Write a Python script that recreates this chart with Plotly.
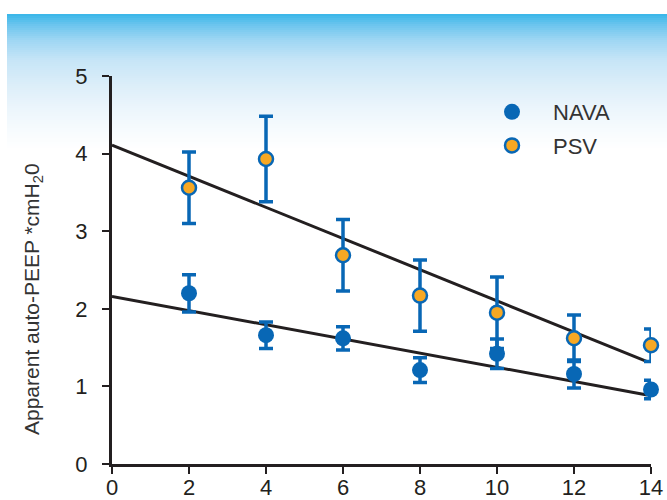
import plotly.graph_objects as go

# Breath-cycle time points
x_vals = [2, 4, 6, 8, 10, 12, 14]

# Apparent auto-PEEP, mean and error (cmH2O)
nava_mean = [2.20, 1.66, 1.62, 1.21, 1.42, 1.16, 0.96]
nava_err = [0.24, 0.17, 0.15, 0.16, 0.19, 0.18, 0.12]
psv_mean = [3.56, 3.93, 2.69, 2.17, 1.95, 1.62, 1.53]
psv_err = [0.46, 0.55, 0.46, 0.46, 0.46, 0.30, 0.21]

# Linear trend lines: intercept and slope
nava_fit = (2.16, -0.0914)
psv_fit = (4.11, -0.2007)
fit_x = [0, 13.9]

x_ticks = [0, 2, 4, 6, 8, 10, 12, 14]
y_ticks = [0, 1, 2, 3, 4, 5]

BLUE = "#0867b5"
ORANGE = "#f7a823"
INK = "#231f20"
FONT = "Liberation Sans, Arial, sans-serif"

W, H = 667, 500
L, R, T, B = 112, 16, 76, 36
PW, PH = W - L - R, H - T - B

fig = go.Figure()

for (b0, b1) in (psv_fit, nava_fit):
    fig.add_trace(go.Scatter(
        x=fit_x, y=[b0 + b1 * xx for xx in fit_x], mode="lines",
        line=dict(color=INK, width=3), showlegend=False, hoverinfo="skip",
        cliponaxis=False,
    ))

fig.add_trace(go.Scatter(
    x=x_vals, y=nava_mean, mode="markers", name="NAVA", legendgroup="a",
    marker=dict(size=16, color=BLUE, line=dict(width=0)),
    error_y=dict(type="data", array=nava_err, color=BLUE, thickness=3.5, width=7),
    cliponaxis=False,
))
fig.add_trace(go.Scatter(
    x=x_vals, y=psv_mean, mode="markers", name="PSV", legendgroup="b",
    marker=dict(size=14, color=ORANGE, line=dict(width=2.5, color=BLUE)),
    error_y=dict(type="data", array=psv_err, color=BLUE, thickness=3.5, width=7),
    cliponaxis=False,
))

# Sky-blue header band fading to white
stops = [(14, (56, 182, 232)), (25, (108, 197, 238)), (40, (158, 214, 243)),
         (60, (198, 229, 247)), (85, (220, 238, 249)), (110, (237, 246, 252)),
         (135, (249, 252, 254)), (150, (255, 255, 255))]


def col_at(py):
    for (p0, c0), (p1, c1) in zip(stops, stops[1:]):
        if p0 <= py <= p1:
            f = (py - p0) / (p1 - p0)
            return "rgb(%d,%d,%d)" % tuple(round(a + (b - a) * f) for a, b in zip(c0, c1))
    return "white"


def px_x(px):
    return (px - L) / PW


def px_y(py):
    return (H - B - py) / PH


shapes = []
for py in range(14, 150, 2):
    shapes.append(dict(
        type="rect", xref="paper", yref="paper", layer="below",
        x0=px_x(7), x1=px_x(W + 2), y0=px_y(py + 2.2), y1=px_y(py),
        fillcolor=col_at(py + 1), line=dict(width=0),
    ))

axis_common = dict(
    showgrid=False, zeroline=False, automargin=False,
    showline=True, linecolor=INK, linewidth=3,
    ticks="outside", ticklen=7, tickwidth=2, tickcolor=INK,
    tickfont=dict(size=22, color=INK),
)

fig.update_layout(
    width=W, height=H,
    margin=dict(l=L, r=R, t=T, b=B, autoexpand=False),
    paper_bgcolor="white", plot_bgcolor="rgba(0,0,0,0)",
    shapes=shapes,
    font=dict(family=FONT, color=INK, size=22),
    showlegend=True,
    legend=dict(
        x=px_x(471), y=px_y(91), xanchor="left", yanchor="top",
        bgcolor="rgba(0,0,0,0)", font=dict(size=22, color="#333333"),
        itemwidth=72, tracegroupgap=2,
    ),
    xaxis=dict(range=[0, 14], tickvals=x_ticks, ticklabelstandoff=-5, **axis_common),
    yaxis=dict(range=[0, 5], tickvals=y_ticks, ticklabelstandoff=10, **axis_common),
    annotations=[dict(
        text="Apparent auto-PEEP *cmH<sub>2</sub>0", textangle=-90,
        xref="paper", yref="paper", x=px_x(33), y=px_y(299),
        xanchor="center", yanchor="middle", showarrow=False,
        font=dict(size=21, color="#333333"),
    )],
)

fig.write_html("out.html")
